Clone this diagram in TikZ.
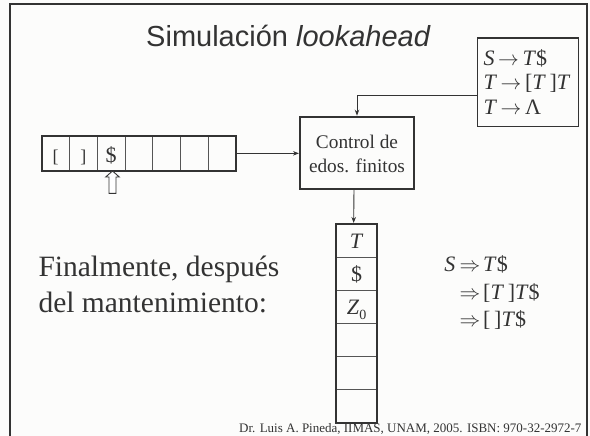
\documentclass[tikz,border=0pt]{standalone}
\usepackage{fontspec}
\setmainfont{Liberation Serif}
\newfontfamily\titlefont{Liberation Sans}
\usetikzlibrary{arrows.meta}
\definecolor{ink}{HTML}{333333}
\definecolor{bg}{HTML}{FCFCFB}
\definecolor{cellline}{HTML}{555555}
\begin{document}
\begin{tikzpicture}[x=1pt,y=-1pt,
  every node/.style={text=ink, inner sep=0pt},
  conn/.style={draw=ink, line width=0.9pt, -{Stealth[length=6pt,width=4.5pt]}},
  thickbox/.style={draw=ink, line width=2pt},
  thinline/.style={draw=cellline, line width=0.8pt},
  mathtxt/.style={font=\fontsize{22}{24}\selectfont},
  ctrltxt/.style={font=\fontsize{19.3}{23}\selectfont},
  bigtxt/.style={font=\fontsize{29.5}{36}\selectfont},
]
\useasboundingbox (0,0) rectangle (590,436);
\fill[bg] (0,0) rectangle (590,436);
\draw[ink, line width=2pt] (9.5,436) -- (9.5,4) -- (586.5,4) -- (586.5,436);

% title
\node[anchor=base, font=\titlefont\fontsize{29}{30}\selectfont] (title) at (288.5,46.5) {Simulación \textit{lookahead}};

% grammar
\node[draw=ink, line width=1.3pt, minimum width=101pt, minimum height=88.5pt] (gram) at (527.8,82.25) {};
\node[mathtxt, anchor=base west] (g1) at (483.3,66) {\textit{S}\,$\rightarrow$\,\textit{T}\$};
\node[mathtxt, anchor=base west] (g2) at (483.3,90) {\textit{T}\,$\rightarrow$\,[\textit{T}\,]\textit{T}};
\node[mathtxt, anchor=base west] (g3) at (483.3,114) {\textit{T}\,$\rightarrow$\,Λ};

% control
\node[thickbox, minimum width=114pt, minimum height=72pt] (ctrl) at (357,152.7) {};
\node[ctrltxt, anchor=base] (c1) at (357,149) {Control de};
\node[ctrltxt, anchor=base] (c2) at (357,172.7) {edos. finitos};

% tape
\node[thickbox, minimum width=194.3pt, minimum height=34.7pt] (tape) at (138.85,153.35) {};
\foreach \i in {1,...,6} \draw[thinline] ({41.7+\i*27.757},137) -- ({41.7+\i*27.757},170);
\node[font=\fontsize{18}{20}\selectfont, anchor=base] (t1) at (55.6,162.5) {[};
\node[font=\fontsize{18}{20}\selectfont, anchor=base] (t2) at (83.3,162.5) {]};
\node[mathtxt, anchor=base] (t3) at (111.1,162) {\$};
\draw[ink, line width=0.9pt, fill=white] (112.5,171) -- (119.3,177) -- (116,177) -- (116,193.3) -- (109,193.3) -- (109,177) -- (105.7,177) -- cycle;

% stack
\node[thickbox, minimum width=41.3pt, minimum height=198.7pt] (stack) at (356.65,323.35) {};
\foreach \k in {1,...,5} \draw[thinline] (337,{224+\k*33.12}) -- (376.3,{224+\k*33.12});
\node[mathtxt, anchor=base] (s1) at (356.65,248.5) {\textit{T}};
\node[mathtxt, anchor=base] (s2) at (356.65,281) {\$};
\node[mathtxt, anchor=base] (s3) at (356.65,314.5) {\textit{Z}\raisebox{-4.5pt}{\fontsize{14}{14}\selectfont 0}};

% connectors
\draw[conn] (tape.east) -- (tape.east -| ctrl.west);
\draw[conn] ([yshift=-12.75pt]gram.west) -| (ctrl.north);
\draw[conn] ([xshift=-3pt]ctrl.south) -- ([xshift=-3pt]stack.north);

% text
\node[bigtxt, anchor=base west] (f1) at (38.3,276.7) {Finalmente, después};
\node[bigtxt, anchor=base west] (f2) at (38.3,312.7) {del mantenimiento:};

% derivation
\node[mathtxt, anchor=base east] (dS) at (455.5,271.7) {\textit{S}};
\node[mathtxt, anchor=base west] (d1) at (459.3,271.7) {$\Rightarrow$\hspace{3pt}\textit{T}\$};
\node[mathtxt, anchor=base west] (d2) at (459.3,299) {$\Rightarrow$\hspace{3pt}[\textit{T}\,]\textit{T}\$};
\node[mathtxt, anchor=base west] (d3) at (459.3,326) {$\Rightarrow$\hspace{3pt}[\,]\textit{T}\$};

% footer
\node[anchor=base east, font=\fontsize{13}{15}\selectfont] (foot) at (581.7,432.5) {Dr. Luis A. Pineda, IIMAS, UNAM, 2005. ISBN: 970-32-2972-7};
\end{tikzpicture}
\end{document}
